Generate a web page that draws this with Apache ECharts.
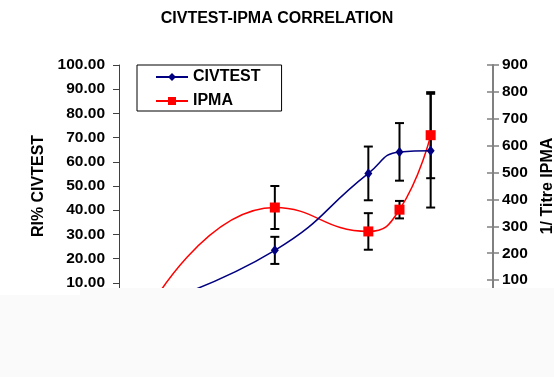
<!DOCTYPE html>
<html>
<head>
<meta charset="utf-8">
<script src="https://cdn.jsdelivr.net/npm/echarts@6/dist/echarts.min.js"></script>
<style>
  html, body { margin: 0; padding: 0; background: #fff; }
  #chart { width: 554px; height: 377px; }
</style>
</head>
<body>
<div id="chart"></div>
<script>
// data (first point sits under the grey band)
const xValues = [1, 5, 8, 9, 10];
const civtest = [0.5, 23.4, 55.2, 64.1, 64.6];
const civtestErr = [0, 5.6, 11.1, 11.9, 23.5];
const ipma = [0, 370, 281, 362, 639];
const ipmaErr = [0, 80, 68, 32.5, 160];
const leftTicks = [0, 100, 10];   // min, max, step
const rightTicks = [0, 900, 100];

const font = 'Liberation Sans, Arial, sans-serif';

function pairs(ys) {
  return xValues.map((x, i) => [x, ys[i]]);
}
function errData(ys, errs) {
  const out = [];
  xValues.forEach((x, i) => {
    if (errs[i] > 0) out.push([x, ys[i] - errs[i], ys[i] + errs[i]]);
  });
  return out;
}

function renderErr(params, api) {
  const x = api.value(0);
  const lo = api.coord([x, api.value(1)]);
  const hi = api.coord([x, api.value(2)]);
  const w = 4.5;
  const style = { stroke: '#000', lineWidth: 2 };
  return {
    type: 'group',
    children: [
      { type: 'line', shape: { x1: lo[0], y1: lo[1], x2: hi[0], y2: hi[1] }, style: style },
      { type: 'line', shape: { x1: lo[0] - w, y1: lo[1], x2: lo[0] + w, y2: lo[1] }, style: style },
      { type: 'line', shape: { x1: hi[0] - w, y1: hi[1], x2: hi[0] + w, y2: hi[1] }, style: style }
    ]
  };
}

const chart = echarts.init(document.getElementById('chart'));
chart.setOption({
  animation: false,
  backgroundColor: '#fff',
  title: {
    text: 'CIVTEST-IPMA CORRELATION',
    left: 'center',
    top: 6,
    textStyle: { fontFamily: font, fontSize: 16, fontWeight: 'bold', color: '#000' }
  },
  legend: {
    data: ['CIVTEST', 'IPMA'],
    orient: 'vertical',
    left: 137,
    top: 65,
    padding: [4, 21, 2, 18],
    itemGap: 8,
    itemWidth: 32,
    itemHeight: 10,
    borderColor: '#000',
    borderWidth: 1,
    backgroundColor: '#fff',
    textStyle: { fontFamily: font, fontSize: 16, fontWeight: 'bold', color: '#000' }
  },
  grid: { left: 119, right: 61, top: 65, bottom: 70, outerBoundsMode: 'none' },
  xAxis: {
    type: 'value', min: 0, max: 12,
    axisLine: { lineStyle: { color: '#404040' } },
    splitLine: { show: false },
    axisLabel: { show: false }
  },
  yAxis: [
    {
      type: 'value', position: 'left',
      min: leftTicks[0], max: leftTicks[1], interval: leftTicks[2],
      name: 'RI% CIVTEST', nameLocation: 'middle', nameRotate: 90, nameGap: 72,
      nameTextStyle: { fontFamily: font, fontSize: 16, fontWeight: 'bold', color: '#000' },
      axisLine: { show: true, lineStyle: { color: '#404040', width: 1 } },
      axisTick: { show: true, length: 6, lineStyle: { color: '#404040' } },
      splitLine: { show: false },
      axisLabel: {
        margin: 14, fontFamily: font, fontSize: 15.5, fontWeight: 'bold', color: '#000',
        formatter: v => v.toFixed(2)
      }
    },
    {
      type: 'value', position: 'right',
      min: rightTicks[0], max: rightTicks[1], interval: rightTicks[2],
      name: '1/ Titre IPMA', nameLocation: 'middle', nameRotate: 90, nameGap: 47,
      nameTextStyle: { fontFamily: font, fontSize: 16, fontWeight: 'bold', color: '#000' },
      axisLine: { show: true, lineStyle: { color: '#808080', width: 2 } },
      axisTick: { show: true, length: 6, lineStyle: { color: '#808080', width: 1.5 } },
      splitLine: { show: false },
      axisLabel: { margin: 9, fontFamily: font, fontSize: 15.5, fontWeight: 'bold', color: '#000' }
    },
    {
      // inner half of the crossing ticks on the right axis
      type: 'value', position: 'right',
      min: rightTicks[0], max: rightTicks[1], interval: rightTicks[2],
      axisLine: { show: false },
      axisTick: { show: true, inside: true, length: 6, lineStyle: { color: '#808080', width: 1.5 } },
      axisLabel: { show: false },
      splitLine: { show: false }
    }
  ],
  series: [
    {
      name: 'CIVTEST err', type: 'custom', yAxisIndex: 0, z: 1,
      renderItem: renderErr, encode: { x: 0, y: [1, 2] },
      data: errData(civtest, civtestErr)
    },
    {
      name: 'IPMA err', type: 'custom', yAxisIndex: 1, z: 1,
      renderItem: renderErr, encode: { x: 0, y: [1, 2] },
      data: errData(ipma, ipmaErr)
    },
    {
      name: 'CIVTEST', type: 'line', yAxisIndex: 0, z: 3, smooth: 0.5,
      symbol: 'diamond', symbolSize: [8, 10],
      lineStyle: { color: '#000080', width: 1.5 },
      itemStyle: { color: '#000080' },
      data: pairs(civtest)
    },
    {
      name: 'IPMA', type: 'line', yAxisIndex: 1, z: 2, smooth: 0.5,
      symbol: 'rect', symbolSize: 10,
      lineStyle: { color: '#ff0000', width: 1.5 },
      itemStyle: { color: '#ff0000' },
      data: pairs(ipma)
    }
  ],
  graphic: [
    { type: 'rect', z: 100, left: 0, top: 295, shape: { width: 80, height: 82 }, style: { fill: '#fafafa' } },
    { type: 'rect', z: 100, left: 80, top: 288, shape: { width: 474, height: 89 }, style: { fill: '#fafafa' } }
  ]
});
</script>
</body>
</html>
